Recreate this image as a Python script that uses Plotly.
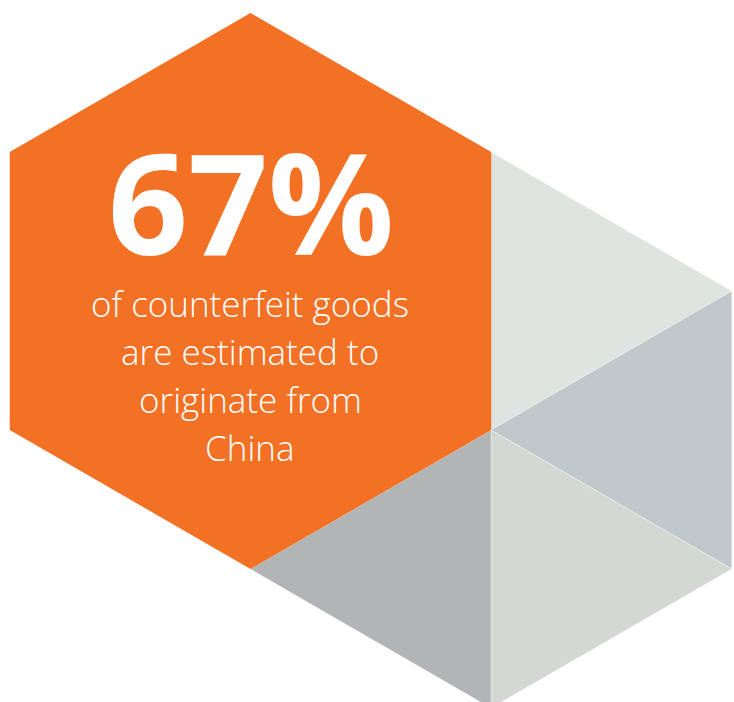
import math
import plotly.graph_objects as go

# ---- data ----
stat_value = [67]
stat_suffix = ["%"]
caption_lines = ["of counterfeit goods", "are estimated to", "originate from", "China"]

# segment colours of the grey hexagon (clockwise from top-right)
segment_names = ["top-right", "right", "bottom-right", "bottom-left"]
segment_colors = ["#DEE4DF", "#C0C8CB", "#D3D8D2", "#B1B5B6"]
orange = "#F37125"

W, H = 734, 702
R = 278  # hexagon radius (px)


def hex_vertices(cx, cy, r):
    # pointy-top hexagon, starting at top, going clockwise (screen coords, y down)
    pts = []
    for k in range(6):
        ang = math.radians(-90 + 60 * k)
        pts.append((cx + r * math.cos(ang), cy + r * math.sin(ang)))
    return pts


fig = go.Figure()

# grey hexagon behind, centred on the orange hexagon's lower-right vertex
gcx, gcy = 491, 430
gv = hex_vertices(gcx, gcy, R)  # 0 top,1 upper-right,2 lower-right,3 bottom,4 lower-left,5 upper-left
pairs = [(0, 1), (1, 2), (2, 3), (3, 4)]
for (a, b), col in zip(pairs, segment_colors):
    xs = [gcx, gv[a][0], gv[b][0], gcx]
    ys = [gcy, gv[a][1], gv[b][1], gcy]
    fig.add_trace(go.Scatter(x=xs, y=ys, fill="toself", fillcolor=col, mode="lines",
                             line=dict(color="rgba(255,255,255,0.6)", width=0.6),
                             hoverinfo="skip", showlegend=False))

# orange hexagon
ocx, ocy = 250.5, 291
ov = hex_vertices(ocx, ocy, R)
fig.add_trace(go.Scatter(x=[p[0] for p in ov] + [ov[0][0]], y=[p[1] for p in ov] + [ov[0][1]],
                         fill="toself", fillcolor=orange, mode="lines",
                         line=dict(color=orange, width=0),
                         hoverinfo="skip", showlegend=False))

# big statistic
fig.add_annotation(x=251, y=200, text=f"<b>{stat_value[0]}{stat_suffix[0]}</b>",
                   showarrow=False, xanchor="center", yanchor="middle",
                   height=140, valign="middle",
                   font=dict(family="Open Sans", size=140, color="white", weight=800))

# caption
line_y = [303, 351, 399, 447]
for t, yy in zip(caption_lines, line_y):
    fig.add_annotation(x=250, y=yy, text=t, showarrow=False, xanchor="center", yanchor="middle",
                       font=dict(family="Open Sans", size=35, color="white", weight=300))

fig.update_layout(
    width=W, height=H,
    margin=dict(l=0, r=0, t=0, b=0),
    paper_bgcolor="white", plot_bgcolor="white",
    xaxis=dict(range=[0, W], visible=False, fixedrange=True),
    yaxis=dict(range=[H, 0], visible=False, fixedrange=True),
    showlegend=False,
)

fig.write_html("out.html", config={"displayModeBar": False},
               post_script="document.body.style.margin='0';document.body.style.padding='0';")
